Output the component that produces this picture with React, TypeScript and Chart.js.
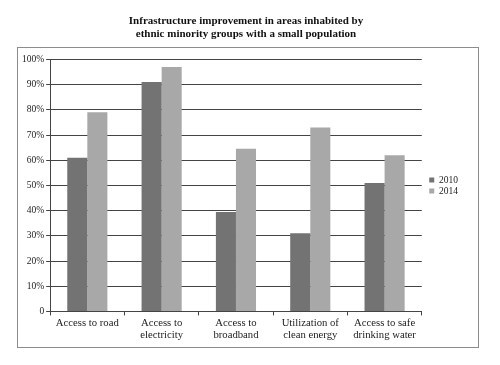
import React, { useEffect, useRef } from "react";
import { Chart, registerables } from "chart.js";

Chart.register(...registerables);

const titleLines = [
  "Infrastructure improvement in areas inhabited by",
  "ethnic minority groups with a small population",
];
const categories: (string | string[])[] = [
  "Access to road",
  ["Access to", "electricity"],
  ["Access to", "broadband"],
  ["Utilization of", "clean energy"],
  ["Access to safe", "drinking water"],
];
const seriesNames = ["2010", "2014"];
const values2010 = [61, 91, 39.5, 31, 51];
const values2014 = [79, 97, 64.6, 73, 62];
const yTickMax = 100;
const yTickStep = 10;

const SERIF = "'Liberation Serif', 'Times New Roman', serif";

const frame = {
  id: "frame",
  beforeDraw(chart: any) {
    const ctx = chart.ctx;
    ctx.save();
    ctx.fillStyle = "#ffffff";
    ctx.fillRect(0, 0, chart.width, chart.height);
    ctx.strokeStyle = "#8c8c8c";
    ctx.lineWidth = 1;
    ctx.strokeRect(17.5, 47.5, 461, 300);
    ctx.restore();
  },
};

const boxShift = {
  id: "boxShift",
  afterLayout(chart: any) {
    const lg = chart.legend;
    if (lg) {
      lg.left += 6;
      lg.right += 6;
      lg.top += 14;
      lg.bottom += 14;
    }
    const tb = chart.titleBlock;
    if (tb) {
      tb.left += 5;
      tb.right += 5;
    }
  },
};

export default function App() {
  const ref = useRef<HTMLCanvasElement | null>(null);
  useEffect(() => {
    document.body.style.margin = "0";
    const chart = new Chart(ref.current as HTMLCanvasElement, {
      type: "bar",
      data: {
        labels: categories,
        datasets: [
          {
            label: seriesNames[0],
            data: values2010,
            backgroundColor: "#737373",
            barPercentage: 1,
            categoryPercentage: 0.54,
          },
          {
            label: seriesNames[1],
            data: values2014,
            backgroundColor: "#a8a8a8",
            barPercentage: 1,
            categoryPercentage: 0.54,
          },
        ],
      },
      options: {
        animation: false,
        responsive: false,
        layout: { padding: { left: 20, right: 38, bottom: 22 } },
        plugins: {
          title: {
            display: true,
            text: titleLines,
            color: "#111",
            font: { family: SERIF, size: 11, weight: "bold", lineHeight: 1.2 },
            padding: { top: 14.5, bottom: 18.5 },
          },
          legend: {
            display: true,
            position: "right",
            labels: {
              color: "#222",
              font: { family: SERIF, size: 9.5 },
              boxWidth: 5,
              boxHeight: 5,
              padding: 1.5,
            },
          },
          tooltip: { enabled: false },
        },
        scales: {
          x: {
            grid: {
              drawOnChartArea: false,
              drawTicks: true,
              tickLength: 4,
              color: "#444",
            },
            border: { color: "#444" },
            ticks: {
              color: "#222",
              font: { family: SERIF, size: 10.7, lineHeight: 1.1 },
              padding: 2,
              maxRotation: 0,
              autoSkip: false,
            },
          },
          y: {
            min: 0,
            max: yTickMax,
            grid: { color: "#444", tickLength: 4 },
            border: { color: "#444" },
            ticks: {
              stepSize: yTickStep,
              color: "#222",
              font: { family: SERIF, size: 9.5 },
              padding: 2,
              callback: (v: any) => (Number(v) === 0 ? "0" : v + "%"),
            },
          },
        },
      },
      plugins: [frame, boxShift],
    });
    return () => chart.destroy();
  }, []);
  return (
    <div style={{ width: 500, height: 365 }}>
      <canvas ref={ref} width={500} height={365} />
    </div>
  );
}
